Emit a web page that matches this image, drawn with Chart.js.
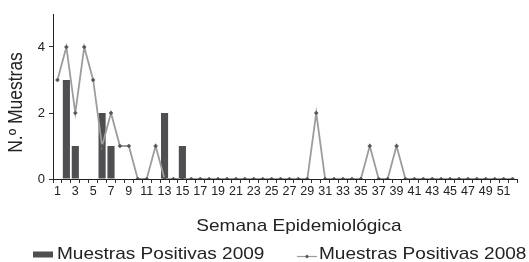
<!DOCTYPE html>
<html>
<head>
<meta charset="utf-8">
<script src="https://cdn.jsdelivr.net/npm/chart.js@4/dist/chart.umd.min.js"></script>
<style>
html,body{margin:0;padding:0;background:#fff;}
#wrap{width:529px;height:262px;position:relative;}
</style>
</head>
<body>
<div id="wrap"><canvas id="c" width="529" height="262"></canvas></div>
<script>
const weeks = Array.from({length: 52}, (_, i) => String(i + 1));
const positives2009 = [0,3,1,0,0,2,1,0,0,0,0,0,2,0,1,0,0,0,0,0,0,0,0,0,0,0,0,0,0,0,0,0,0,0,0,0,0,0,0,0,0,0,0,0,0,0,0,0,0,0,0,0];
const positives2008 = [3,4,2,4,3,1,2,1,1,0,0,1,0,0,0,0,0,0,0,0,0,0,0,0,0,0,0,0,0,2,0,0,0,0,0,1,0,0,1,0,0,0,0,0,0,0,0,0,0,0,0,0];
const yTicks = [0, 2, 4];
const seriesNames = ['Muestras Positivas 2009', 'Muestras Positivas 2008'];
const axisTitles = {x: 'Semana Epidemiológica', y: 'N.º Muestras'};

const FONT = "'Liberation Sans', Arial, sans-serif";
const TEXT = '#222';
const BAR = '#4f4f51';
const LINE = '#9c9c9c';
const MARK = '#555';
const SX = 1.12; // horizontal stretch of the reference text

function stretchedText(ctx, text, x, y, align, baseline) {
  ctx.save();
  ctx.translate(x, y);
  ctx.scale(SX, 1);
  ctx.textAlign = align;
  ctx.textBaseline = baseline;
  ctx.fillText(text, 0, 0);
  ctx.restore();
}

const textPlugin = {
  id: 'textAndLegend',
  afterDraw(chart) {
    const ctx = chart.ctx;
    ctx.save();
    ctx.fillStyle = TEXT;
    ctx.font = '17px ' + FONT;
    // x axis title
    stretchedText(ctx, axisTitles.x, 299, 226, 'center', 'middle');
    // y axis title (rotated, glyph height stretched)
    ctx.save();
    ctx.translate(17, 102.5);
    ctx.rotate(-Math.PI / 2);
    ctx.scale(1, SX);
    ctx.textAlign = 'center';
    ctx.textBaseline = 'middle';
    ctx.font = '17.5px ' + FONT;
    ctx.fillText(axisTitles.y, 0, 0);
    ctx.restore();
    // legend: bar item
    ctx.fillStyle = BAR;
    ctx.fillRect(33, 251.5, 20, 6);
    ctx.fillStyle = TEXT;
    stretchedText(ctx, seriesNames[0], 57, 259, 'left', 'alphabetic');
    // legend: line item
    ctx.strokeStyle = LINE;
    ctx.lineWidth = 1.2;
    ctx.beginPath();
    ctx.moveTo(297, 256.5);
    ctx.lineTo(317, 256.5);
    ctx.stroke();
    ctx.fillStyle = MARK;
    ctx.beginPath();
    ctx.moveTo(307, 254.5); ctx.lineTo(309, 256.5); ctx.lineTo(307, 258.5); ctx.lineTo(305, 256.5); ctx.closePath();
    ctx.fill();
    ctx.fillStyle = TEXT;
    stretchedText(ctx, seriesNames[1], 319, 259, 'left', 'alphabetic');
    ctx.restore();
  }
};

new Chart(document.getElementById('c'), {
  type: 'bar',
  data: {
    labels: weeks,
    datasets: [
      {
        type: 'bar',
        label: seriesNames[0],
        data: positives2009,
        backgroundColor: BAR,
        borderWidth: 0,
        barPercentage: 0.8,
        categoryPercentage: 1.0,
        order: 2
      },
      {
        type: 'line',
        label: seriesNames[1],
        data: positives2008,
        borderColor: LINE,
        borderWidth: 1.8,
        pointStyle: 'rectRot',
        pointRadius: 2,
        pointBackgroundColor: MARK,
        pointBorderColor: MARK,
        pointBorderWidth: 0.5,
        tension: 0,
        order: 1
      }
    ]
  },
  options: {
    responsive: false,
    animation: false,
    devicePixelRatio: 1,
    layout: {padding: {left: 0, right: 12, top: 14, bottom: 0}},
    plugins: {legend: {display: false}, tooltip: {enabled: false}},
    scales: {
      x: {
        offset: true,
        grid: {display: true, drawOnChartArea: false, drawTicks: true, tickLength: 4, color: '#333', offset: true},
        border: {display: true, color: '#222', width: 1},
        ticks: {
          autoSkip: false, maxRotation: 0, minRotation: 0, padding: 1,
          color: TEXT, font: {family: FONT, size: 12.5},
          callback: function(v, i) { return i % 2 === 0 ? weeks[i] : ''; }
        },
        title: {display: false},
        afterFit(scale) { scale.height = 83; }
      },
      y: {
        min: 0, max: 5,
        grid: {display: true, drawOnChartArea: false, drawTicks: true, tickLength: 4, color: '#333'},
        border: {display: true, color: '#222', width: 1},
        ticks: {stepSize: 2, color: TEXT, font: {family: FONT, size: 13}, padding: 4},
        afterBuildTicks(scale) { scale.ticks = yTicks.map(v => ({value: v})); },
        title: {display: false},
        afterFit(scale) { scale.width = 53; }
      }
    }
  },
  plugins: [textPlugin]
});
</script>
</body>
</html>
